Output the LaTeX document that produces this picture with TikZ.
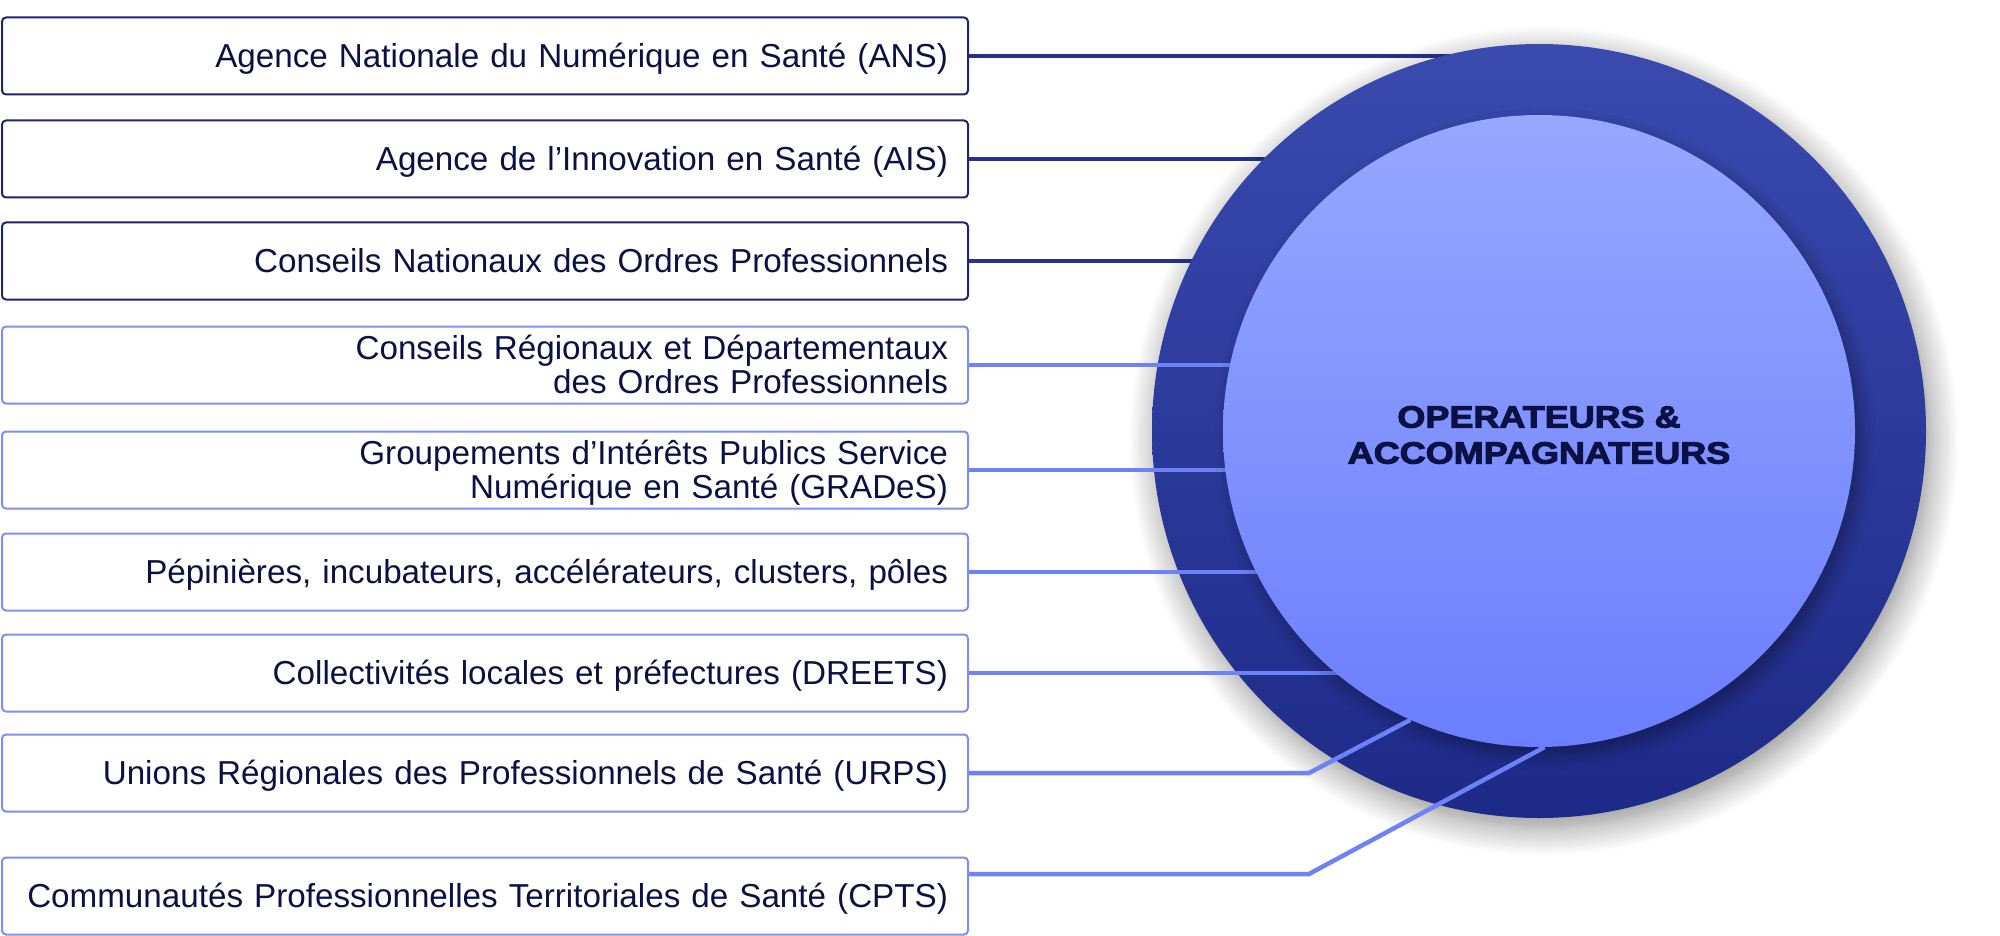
\documentclass[tikz,border=0pt]{standalone}
\usepackage{fontspec}
\setmainfont{Liberation Sans}
\newfontfamily\hubfont[FakeStretch=1.18,FakeBold=3.5]{Liberation Sans Bold}
\usetikzlibrary{shadows.blur}

\definecolor{navy}{HTML}{1F2470}
\definecolor{ringtop}{HTML}{3A4AAE}
\definecolor{ringbot}{HTML}{1D2A87}
\definecolor{coretop}{HTML}{97A7FF}
\definecolor{corebot}{HTML}{6B7EFC}
\definecolor{periw}{HTML}{6F82F5}
\definecolor{inktext}{HTML}{0C1145}
\definecolor{darkline}{HTML}{26318F}

\tikzset{
  acteur/.style={draw, rounded corners=4pt, line width=2pt, fill=white,
    minimum height=77pt, text width=926pt, inner xsep=20pt, inner ysep=0pt,
    text height=23.8pt, text depth=0pt,
    align=right, text=inktext, font=\fontsize{33.2}{34}\selectfont},
  deuxlignes/.style={text depth=34pt},
  national/.style={acteur, draw=navy},
  regional/.style={acteur, draw=periw!90!white},
  lienfonce/.style={draw=darkline, line width=4.5pt},
  lienclair/.style={draw=periw, line width=4.5pt},
}

\begin{document}
\begin{tikzpicture}[x=1pt,y=-1pt]
    \useasboundingbox (0,0) rectangle (2000,936);

    % acteurs
    \node[national] (ans)    at (485,56)  {Agence Nationale du Numérique en Santé (ANS)};
    \node[national] (ais)    at (485,159) {Agence de l’Innovation en Santé (AIS)};
    \node[national] (cnop)   at (485,261) {Conseils Nationaux des Ordres Professionnels};
    \node[regional, deuxlignes] (crop)   at (485,365) {Conseils Régionaux et Départementaux\\des Ordres Professionnels};
    \node[regional, deuxlignes] (grades) at (485,470) {Groupements d’Intérêts Publics Service\\Numérique en Santé (GRADeS)};
    \node[regional] (pep)    at (485,572) {Pépinières, incubateurs, accélérateurs, clusters, pôles};
    \node[regional] (dreets) at (485,673) {Collectivités locales et préfectures (DREETS)};
    \node[regional] (urps)   at (485,773) {Unions Régionales des Professionnels de Santé (URPS)};
    \node[regional] (cpts)   at (485,896) {Communautés Professionnelles Territoriales de Santé (CPTS)};

    \coordinate (hub) at (1539,431);

    % liens nationaux, sous l'anneau
    \draw[lienfonce] (ans.east)  -- (ans.east -| hub);
    \draw[lienfonce] (ais.east)  -- (ais.east -| hub);
    \draw[lienfonce] (cnop.east) -- (cnop.east -| hub);

    \node[circle, minimum size=774pt, top color=ringtop, bottom color=ringbot,
          blur shadow={shadow xshift=5pt, shadow yshift=-10pt, shadow blur radius=28pt,
                       shadow blur steps=12, shadow opacity=45}] (anneau) at (hub) {};

    % liens regionaux, sous le coeur
    \draw[lienclair] (crop.east)   -- (crop.east -| hub);
    \draw[lienclair] (grades.east) -- (grades.east -| hub);
    \draw[lienclair] (pep.east)    -- (pep.east -| hub);
    \draw[lienclair] (dreets.east) -- (dreets.east -| hub);

    \node[circle, minimum size=632pt, top color=coretop, bottom color=corebot,
          blur shadow={shadow xshift=6pt, shadow yshift=-8pt, shadow blur radius=14pt,
                       shadow blur steps=8, shadow opacity=35}] (coeur) at (hub) {};

    \draw[lienclair] (urps.east) -- ([xshift=340pt]urps.east) -- (coeur.246.8);
    \draw[lienclair] ([yshift=22pt]cpts.east) -- ([xshift=340pt,yshift=22pt]cpts.east) -- (coeur.271.5);

    \node[align=center, text=inktext, font=\hubfont\fontsize{30.5}{36}\selectfont]
        (titre) at (1539,435) {OPERATEURS \&\\ACCOMPAGNATEURS};

\end{tikzpicture}
\end{document}
